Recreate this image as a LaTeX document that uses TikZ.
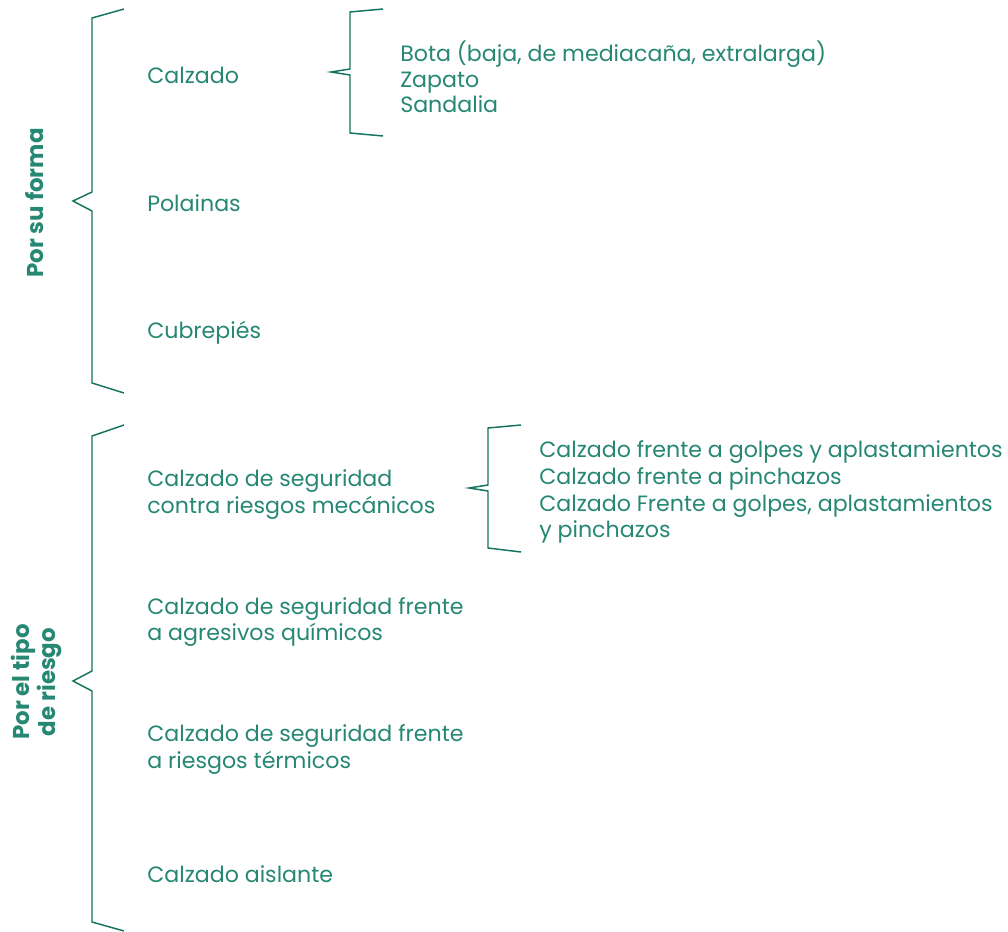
\documentclass[tikz,border=0pt]{standalone}
\usepackage{fontspec}
\setmainfont{Poppins}
\definecolor{txt}{RGB}{38,135,115}
\definecolor{brc}{RGB}{20,115,95}
\begin{document}
\begin{tikzpicture}[x=0.75pt,y=-0.75pt,
  lbl/.style={anchor=base west,inner sep=0pt,text=txt,font=\fontsize{16.6}{20}\selectfont},
  cat/.style={inner sep=0pt,text=txt,rotate=90,align=center,font=\fontsize{17.2}{19.5}\selectfont\bfseries},
  brace/.style={draw=brc,line width=1.1pt,line join=miter}]
\useasboundingbox (0,0) rectangle (1008,932);
% big braces
\draw[brace] (124,9) -- (92,18) -- (92,192) -- (73,201) -- (92,211) -- (92,383) -- (124,393);
\draw[brace] (124,425) -- (92,436) -- (92,671) -- (73,681) -- (92,691) -- (92,922) -- (124,931);
% small braces
\draw[brace] (383,9) -- (350,12) -- (350,69) -- (331,72) -- (350,75) -- (350,133) -- (383,136);
\draw[brace] (521,425) -- (488,428) -- (488,485) -- (469,488) -- (488,491) -- (488,548) -- (521,552);
% categories
\node[cat] (forma) at (35,203) {Por su forma};
\node[cat] (riesgo) at (36,682) {Por el tipo\\de riesgo};
% second column
\node[lbl] (calz) at (147,83) {Calzado};
\node[lbl] (pol) at (147,211) {Polainas};
\node[lbl] (cub) at (147,338) {Cubrepiés};
\node[lbl] (mec1) at (147,486) {Calzado de seguridad};
\node[lbl] (mec2) at (147,513) {contra riesgos mecánicos};
\node[lbl] (qui1) at (147,614) {Calzado de seguridad frente};
\node[lbl] (qui2) at (147,640) {a agresivos químicos};
\node[lbl] (ter1) at (147,741) {Calzado de seguridad frente};
\node[lbl] (ter2) at (147,768) {a riesgos térmicos};
\node[lbl] (ais) at (147,882) {Calzado aislante};
% third column
\node[lbl] (bota) at (400,61) {Bota (baja, de mediacaña, extralarga)};
\node[lbl] (zap) at (400,87) {Zapato};
\node[lbl] (san) at (400,112) {Sandalia};
\node[lbl] (m1) at (539,457) {Calzado frente a golpes y aplastamientos};
\node[lbl] (m2) at (539,484) {Calzado frente a pinchazos};
\node[lbl] (m3) at (539,511) {Calzado Frente a golpes, aplastamientos};
\node[lbl] (m4) at (539,537) {y pinchazos};
\end{tikzpicture}
\end{document}
